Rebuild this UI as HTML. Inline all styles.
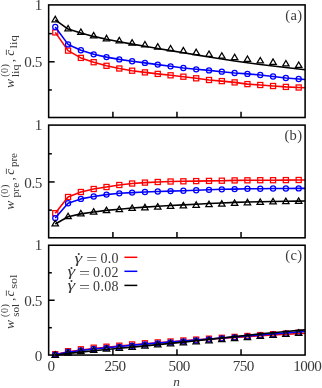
<!DOCTYPE html>
<html lang="en"><head><meta charset="utf-8"><title>figure</title>
<style>
html,body{margin:0;padding:0;background:#fff;}
body{width:322px;height:388px;overflow:hidden;}
svg{display:block;}
</style></head><body>
<svg width="322" height="388" viewBox="0 0 322 388">
<rect x="0" y="0" width="322" height="388" fill="#ffffff"/>
<defs>
<clipPath id="clipa"><rect x="48.65" y="-1.10" width="256.45" height="124.60"/></clipPath>
<clipPath id="clipb"><rect x="48.65" y="119.10" width="256.45" height="124.70"/></clipPath>
<clipPath id="clipc"><rect x="48.65" y="239.25" width="256.45" height="121.80"/></clipPath>
</defs>
<g clip-path="url(#clipa)">
<polyline points="55.26,32.40 68.07,50.60 80.88,57.90 93.69,62.20 106.51,65.80 119.32,68.50 132.13,70.70 144.94,72.40 157.76,73.90 170.57,75.30 183.38,76.70 196.19,78.30 209.01,80.00 221.82,81.10 234.63,82.40 247.44,84.10 260.26,85.00 273.07,86.00 285.88,86.90 298.69,87.50 305.10,87.80" fill="none" stroke="#ff0000" stroke-width="1.60" stroke-linejoin="round"/>
<g fill="none" stroke="#ff0000" stroke-width="1.25"><rect x="52.71" y="29.85" width="5.10" height="5.10"/><rect x="65.52" y="48.05" width="5.10" height="5.10"/><rect x="78.33" y="55.35" width="5.10" height="5.10"/><rect x="91.14" y="59.65" width="5.10" height="5.10"/><rect x="103.96" y="63.25" width="5.10" height="5.10"/><rect x="116.77" y="65.95" width="5.10" height="5.10"/><rect x="129.58" y="68.15" width="5.10" height="5.10"/><rect x="142.39" y="69.85" width="5.10" height="5.10"/><rect x="155.21" y="71.35" width="5.10" height="5.10"/><rect x="168.02" y="72.75" width="5.10" height="5.10"/><rect x="180.83" y="74.15" width="5.10" height="5.10"/><rect x="193.64" y="75.75" width="5.10" height="5.10"/><rect x="206.46" y="77.45" width="5.10" height="5.10"/><rect x="219.27" y="78.55" width="5.10" height="5.10"/><rect x="232.08" y="79.85" width="5.10" height="5.10"/><rect x="244.89" y="81.55" width="5.10" height="5.10"/><rect x="257.71" y="82.45" width="5.10" height="5.10"/><rect x="270.52" y="83.45" width="5.10" height="5.10"/><rect x="283.33" y="84.35" width="5.10" height="5.10"/><rect x="296.14" y="84.95" width="5.10" height="5.10"/></g>
<polyline points="55.26,27.00 68.07,44.40 80.88,50.20 93.69,54.30 106.51,57.10 119.32,59.40 132.13,61.20 144.94,62.90 157.76,64.60 170.57,66.30 183.38,68.00 196.19,69.30 209.01,70.40 221.82,71.70 234.63,73.00 247.44,73.90 260.26,75.00 273.07,76.50 285.88,78.00 298.69,79.00 305.10,79.50" fill="none" stroke="#0000ff" stroke-width="1.60" stroke-linejoin="round"/>
<g fill="none" stroke="#0000ff" stroke-width="1.25"><circle cx="55.26" cy="27.00" r="2.55"/><circle cx="68.07" cy="44.40" r="2.55"/><circle cx="80.88" cy="50.20" r="2.55"/><circle cx="93.69" cy="54.30" r="2.55"/><circle cx="106.51" cy="57.10" r="2.55"/><circle cx="119.32" cy="59.40" r="2.55"/><circle cx="132.13" cy="61.20" r="2.55"/><circle cx="144.94" cy="62.90" r="2.55"/><circle cx="157.76" cy="64.60" r="2.55"/><circle cx="170.57" cy="66.30" r="2.55"/><circle cx="183.38" cy="68.00" r="2.55"/><circle cx="196.19" cy="69.30" r="2.55"/><circle cx="209.01" cy="70.40" r="2.55"/><circle cx="221.82" cy="71.70" r="2.55"/><circle cx="234.63" cy="73.00" r="2.55"/><circle cx="247.44" cy="73.90" r="2.55"/><circle cx="260.26" cy="75.00" r="2.55"/><circle cx="273.07" cy="76.50" r="2.55"/><circle cx="285.88" cy="78.00" r="2.55"/><circle cx="298.69" cy="79.00" r="2.55"/></g>
<polyline points="55.26,19.90 68.07,29.10 80.88,32.90 93.69,36.40 106.51,39.20 119.32,41.70 132.13,44.10 144.94,46.30 157.76,48.50 170.57,50.60 183.38,52.70 196.19,54.90 209.01,57.00 221.82,59.00 234.63,61.00 247.44,62.80 260.26,64.50 273.07,66.00 285.88,67.50 298.69,69.00 305.10,69.75" fill="none" stroke="#000000" stroke-width="1.60" stroke-linejoin="round"/>
<g fill="none" stroke="#000000" stroke-width="1.25" stroke-linejoin="miter"><path d="M55.26 16.32 L52.06 21.76 L58.46 21.76 Z"/><path d="M68.07 25.52 L64.87 30.96 L71.27 30.96 Z"/><path d="M80.88 29.02 L77.68 34.46 L84.08 34.46 Z"/><path d="M93.69 32.42 L90.49 37.86 L96.89 37.86 Z"/><path d="M106.51 35.32 L103.31 40.76 L109.71 40.76 Z"/><path d="M119.32 37.42 L116.12 42.86 L122.52 42.86 Z"/><path d="M132.13 39.62 L128.93 45.06 L135.33 45.06 Z"/><path d="M144.94 41.52 L141.74 46.96 L148.14 46.96 Z"/><path d="M157.76 43.62 L154.56 49.06 L160.96 49.06 Z"/><path d="M170.57 45.52 L167.37 50.96 L173.77 50.96 Z"/><path d="M183.38 47.42 L180.18 52.86 L186.58 52.86 Z"/><path d="M196.19 49.12 L192.99 54.56 L199.39 54.56 Z"/><path d="M209.01 51.02 L205.81 56.46 L212.21 56.46 Z"/><path d="M221.82 52.72 L218.62 58.16 L225.02 58.16 Z"/><path d="M234.63 54.22 L231.43 59.66 L237.83 59.66 Z"/><path d="M247.44 56.02 L244.24 61.46 L250.64 61.46 Z"/><path d="M260.26 57.52 L257.06 62.96 L263.46 62.96 Z"/><path d="M273.07 58.92 L269.87 64.36 L276.27 64.36 Z"/><path d="M285.88 60.52 L282.68 65.96 L289.08 65.96 Z"/><path d="M298.69 62.02 L295.49 67.46 L301.89 67.46 Z"/></g>
</g>
<g clip-path="url(#clipb)">
<polyline points="55.26,213.20 68.07,197.00 80.88,192.00 93.69,189.00 106.51,187.00 119.32,185.00 132.13,183.50 144.94,182.60 157.76,182.00 170.57,181.50 183.38,181.30 196.19,181.10 209.01,180.90 221.82,180.70 234.63,180.40 247.44,180.30 260.26,180.20 273.07,180.20 285.88,180.10 298.69,180.00 305.10,179.95" fill="none" stroke="#ff0000" stroke-width="1.60" stroke-linejoin="round"/>
<g fill="none" stroke="#ff0000" stroke-width="1.25"><rect x="52.71" y="210.65" width="5.10" height="5.10"/><rect x="65.52" y="194.45" width="5.10" height="5.10"/><rect x="78.33" y="189.45" width="5.10" height="5.10"/><rect x="91.14" y="186.45" width="5.10" height="5.10"/><rect x="103.96" y="184.45" width="5.10" height="5.10"/><rect x="116.77" y="182.45" width="5.10" height="5.10"/><rect x="129.58" y="180.95" width="5.10" height="5.10"/><rect x="142.39" y="180.05" width="5.10" height="5.10"/><rect x="155.21" y="179.45" width="5.10" height="5.10"/><rect x="168.02" y="178.95" width="5.10" height="5.10"/><rect x="180.83" y="178.75" width="5.10" height="5.10"/><rect x="193.64" y="178.55" width="5.10" height="5.10"/><rect x="206.46" y="178.35" width="5.10" height="5.10"/><rect x="219.27" y="178.15" width="5.10" height="5.10"/><rect x="232.08" y="177.85" width="5.10" height="5.10"/><rect x="244.89" y="177.75" width="5.10" height="5.10"/><rect x="257.71" y="177.65" width="5.10" height="5.10"/><rect x="270.52" y="177.65" width="5.10" height="5.10"/><rect x="283.33" y="177.55" width="5.10" height="5.10"/><rect x="296.14" y="177.45" width="5.10" height="5.10"/></g>
<polyline points="55.26,218.10 68.07,203.20 80.88,198.90 93.69,196.50 106.51,194.60 119.32,193.30 132.13,192.60 144.94,192.00 157.76,191.50 170.57,191.10 183.38,190.70 196.19,190.20 209.01,189.80 221.82,189.30 234.63,189.10 247.44,188.70 260.26,188.70 273.07,188.50 285.88,188.50 298.69,188.40 305.10,188.35" fill="none" stroke="#0000ff" stroke-width="1.60" stroke-linejoin="round"/>
<g fill="none" stroke="#0000ff" stroke-width="1.25"><circle cx="55.26" cy="218.10" r="2.55"/><circle cx="68.07" cy="203.20" r="2.55"/><circle cx="80.88" cy="198.90" r="2.55"/><circle cx="93.69" cy="196.50" r="2.55"/><circle cx="106.51" cy="194.60" r="2.55"/><circle cx="119.32" cy="193.30" r="2.55"/><circle cx="132.13" cy="192.60" r="2.55"/><circle cx="144.94" cy="192.00" r="2.55"/><circle cx="157.76" cy="191.50" r="2.55"/><circle cx="170.57" cy="191.10" r="2.55"/><circle cx="183.38" cy="190.70" r="2.55"/><circle cx="196.19" cy="190.20" r="2.55"/><circle cx="209.01" cy="189.80" r="2.55"/><circle cx="221.82" cy="189.30" r="2.55"/><circle cx="234.63" cy="189.10" r="2.55"/><circle cx="247.44" cy="188.70" r="2.55"/><circle cx="260.26" cy="188.70" r="2.55"/><circle cx="273.07" cy="188.50" r="2.55"/><circle cx="285.88" cy="188.50" r="2.55"/><circle cx="298.69" cy="188.40" r="2.55"/></g>
<polyline points="55.26,224.00 68.07,216.80 80.88,213.90 93.69,212.00 106.51,210.40 119.32,209.20 132.13,208.00 144.94,207.10 157.76,206.30 170.57,205.50 183.38,204.90 196.19,204.20 209.01,203.50 221.82,203.00 234.63,202.40 247.44,202.00 260.26,201.70 273.07,201.50 285.88,201.30 298.69,201.10 305.10,201.00" fill="none" stroke="#000000" stroke-width="1.60" stroke-linejoin="round"/>
<g fill="none" stroke="#000000" stroke-width="1.25" stroke-linejoin="miter"><path d="M55.26 220.42 L52.06 225.86 L58.46 225.86 Z"/><path d="M68.07 213.22 L64.87 218.66 L71.27 218.66 Z"/><path d="M80.88 210.42 L77.68 215.86 L84.08 215.86 Z"/><path d="M93.69 208.62 L90.49 214.06 L96.89 214.06 Z"/><path d="M106.51 207.12 L103.31 212.56 L109.71 212.56 Z"/><path d="M119.32 206.12 L116.12 211.56 L122.52 211.56 Z"/><path d="M132.13 205.02 L128.93 210.46 L135.33 210.46 Z"/><path d="M144.94 204.32 L141.74 209.76 L148.14 209.76 Z"/><path d="M157.76 203.62 L154.56 209.06 L160.96 209.06 Z"/><path d="M170.57 202.92 L167.37 208.36 L173.77 208.36 Z"/><path d="M183.38 202.42 L180.18 207.86 L186.58 207.86 Z"/><path d="M196.19 201.82 L192.99 207.26 L199.39 207.26 Z"/><path d="M209.01 201.12 L205.81 206.56 L212.21 206.56 Z"/><path d="M221.82 200.62 L218.62 206.06 L225.02 206.06 Z"/><path d="M234.63 199.92 L231.43 205.36 L237.83 205.36 Z"/><path d="M247.44 199.32 L244.24 204.76 L250.64 204.76 Z"/><path d="M260.26 198.92 L257.06 204.36 L263.46 204.36 Z"/><path d="M273.07 198.42 L269.87 203.86 L276.27 203.86 Z"/><path d="M285.88 198.12 L282.68 203.56 L289.08 203.56 Z"/><path d="M298.69 197.92 L295.49 203.36 L301.89 203.36 Z"/></g>
</g>
<g clip-path="url(#clipc)">
<polyline points="55.26,354.50 68.07,351.70 80.88,350.00 93.69,348.50 106.51,347.30 119.32,346.10 132.13,344.80 144.94,343.70 157.76,342.70 170.57,341.80 183.38,340.80 196.19,339.90 209.01,339.00 221.82,338.20 234.63,337.40 247.44,336.60 260.26,335.80 273.07,335.00 285.88,334.30 298.69,333.60 305.10,333.25" fill="none" stroke="#ff0000" stroke-width="1.60" stroke-linejoin="round"/>
<g fill="none" stroke="#ff0000" stroke-width="1.25"><rect x="52.71" y="351.65" width="5.10" height="5.10"/><rect x="65.52" y="348.65" width="5.10" height="5.10"/><rect x="78.33" y="346.75" width="5.10" height="5.10"/><rect x="91.14" y="345.15" width="5.10" height="5.10"/><rect x="103.96" y="344.15" width="5.10" height="5.10"/><rect x="116.77" y="343.15" width="5.10" height="5.10"/><rect x="129.58" y="341.85" width="5.10" height="5.10"/><rect x="142.39" y="340.75" width="5.10" height="5.10"/><rect x="155.21" y="339.85" width="5.10" height="5.10"/><rect x="168.02" y="338.95" width="5.10" height="5.10"/><rect x="180.83" y="337.95" width="5.10" height="5.10"/><rect x="193.64" y="337.05" width="5.10" height="5.10"/><rect x="206.46" y="336.15" width="5.10" height="5.10"/><rect x="219.27" y="335.25" width="5.10" height="5.10"/><rect x="232.08" y="334.35" width="5.10" height="5.10"/><rect x="244.89" y="333.45" width="5.10" height="5.10"/><rect x="257.71" y="332.55" width="5.10" height="5.10"/><rect x="270.52" y="331.65" width="5.10" height="5.10"/><rect x="283.33" y="330.95" width="5.10" height="5.10"/><rect x="296.14" y="330.25" width="5.10" height="5.10"/></g>
<polyline points="55.26,354.60 68.07,352.20 80.88,350.50 93.69,349.00 106.51,347.70 119.32,346.50 132.13,345.20 144.94,344.10 157.76,343.00 170.57,342.00 183.38,341.00 196.19,340.00 209.01,339.00 221.82,338.00 234.63,337.00 247.44,336.00 260.26,335.00 273.07,334.00 285.88,333.00 298.69,332.00 305.10,331.50" fill="none" stroke="#0000ff" stroke-width="1.60" stroke-linejoin="round"/>
<g fill="none" stroke="#0000ff" stroke-width="1.25"><circle cx="55.26" cy="354.60" r="2.55"/><circle cx="68.07" cy="352.00" r="2.55"/><circle cx="80.88" cy="350.30" r="2.55"/><circle cx="93.69" cy="348.90" r="2.55"/><circle cx="106.51" cy="347.80" r="2.55"/><circle cx="119.32" cy="346.80" r="2.55"/><circle cx="132.13" cy="345.70" r="2.55"/><circle cx="144.94" cy="344.50" r="2.55"/><circle cx="157.76" cy="343.40" r="2.55"/><circle cx="170.57" cy="342.40" r="2.55"/><circle cx="183.38" cy="341.50" r="2.55"/><circle cx="196.19" cy="340.50" r="2.55"/><circle cx="209.01" cy="339.50" r="2.55"/><circle cx="221.82" cy="338.50" r="2.55"/><circle cx="234.63" cy="337.50" r="2.55"/><circle cx="247.44" cy="336.60" r="2.55"/><circle cx="260.26" cy="335.60" r="2.55"/><circle cx="273.07" cy="334.60" r="2.55"/><circle cx="285.88" cy="333.70" r="2.55"/><circle cx="298.69" cy="332.70" r="2.55"/></g>
<polyline points="55.26,355.40 68.07,353.40 80.88,352.10 93.69,350.80 106.51,349.50 119.32,348.30 132.13,347.10 144.94,345.90 157.76,344.60 170.57,343.40 183.38,342.10 196.19,340.80 209.01,339.40 221.82,338.00 234.63,336.60 247.44,335.30 260.26,333.90 273.07,332.70 285.88,331.50 298.69,330.40 305.10,329.85" fill="none" stroke="#000000" stroke-width="1.60" stroke-linejoin="round"/>
<g fill="none" stroke="#000000" stroke-width="1.25" stroke-linejoin="miter"><path d="M55.26 351.82 L52.06 357.26 L58.46 357.26 Z"/><path d="M68.07 349.62 L64.87 355.06 L71.27 355.06 Z"/><path d="M80.88 348.22 L77.68 353.66 L84.08 353.66 Z"/><path d="M93.69 346.97 L90.49 352.41 L96.89 352.41 Z"/><path d="M106.51 345.72 L103.31 351.16 L109.71 351.16 Z"/><path d="M119.32 344.82 L116.12 350.26 L122.52 350.26 Z"/><path d="M132.13 343.82 L128.93 349.26 L135.33 349.26 Z"/><path d="M144.94 342.62 L141.74 348.06 L148.14 348.06 Z"/><path d="M157.76 341.42 L154.56 346.86 L160.96 346.86 Z"/><path d="M170.57 340.32 L167.37 345.76 L173.77 345.76 Z"/><path d="M183.38 339.42 L180.18 344.86 L186.58 344.86 Z"/><path d="M196.19 338.32 L192.99 343.76 L199.39 343.76 Z"/><path d="M209.01 337.32 L205.81 342.76 L212.21 342.76 Z"/><path d="M221.82 336.22 L218.62 341.66 L225.02 341.66 Z"/><path d="M234.63 335.12 L231.43 340.56 L237.83 340.56 Z"/><path d="M247.44 334.12 L244.24 339.56 L250.64 339.56 Z"/><path d="M260.26 333.02 L257.06 338.46 L263.46 338.46 Z"/><path d="M273.07 332.02 L269.87 337.46 L276.27 337.46 Z"/><path d="M285.88 331.02 L282.68 336.46 L289.08 336.46 Z"/><path d="M298.69 329.82 L295.49 335.26 L301.89 335.26 Z"/></g>
</g>
<g stroke="#000" stroke-width="1.50"><line x1="48.65" y1="33.65" x2="51.85" y2="33.65"/><line x1="48.65" y1="61.80" x2="54.65" y2="61.80"/><line x1="48.65" y1="89.95" x2="51.85" y2="89.95"/><line x1="112.91" y1="117.50" x2="112.91" y2="111.70"/><line x1="176.97" y1="117.50" x2="176.97" y2="111.70"/><line x1="241.04" y1="117.50" x2="241.04" y2="111.70"/></g><rect x="48.65" y="4.90" width="256.45" height="112.60" fill="none" stroke="#000" stroke-width="1.55"/>
<g stroke="#000" stroke-width="1.50"><line x1="48.65" y1="153.78" x2="51.85" y2="153.78"/><line x1="48.65" y1="181.95" x2="54.65" y2="181.95"/><line x1="48.65" y1="210.12" x2="51.85" y2="210.12"/><line x1="112.91" y1="237.80" x2="112.91" y2="232.00"/><line x1="176.97" y1="237.80" x2="176.97" y2="232.00"/><line x1="241.04" y1="237.80" x2="241.04" y2="232.00"/></g><rect x="48.65" y="125.10" width="256.45" height="112.70" fill="none" stroke="#000" stroke-width="1.55"/>
<g stroke="#000" stroke-width="1.50"><line x1="48.65" y1="272.80" x2="51.85" y2="272.80"/><line x1="48.65" y1="300.25" x2="54.65" y2="300.25"/><line x1="48.65" y1="327.70" x2="51.85" y2="327.70"/><line x1="112.91" y1="355.05" x2="112.91" y2="349.25"/><line x1="176.97" y1="355.05" x2="176.97" y2="349.25"/><line x1="241.04" y1="355.05" x2="241.04" y2="349.25"/></g><rect x="48.65" y="245.25" width="256.45" height="109.80" fill="none" stroke="#000" stroke-width="1.55"/>
<g font-family="'Liberation Serif', serif" font-size="13.8" fill="#3a3a3a">
<text transform="translate(41.70,9.90) scale(1.1,1)" letter-spacing="-0.5" text-anchor="end">1</text>
<text transform="translate(41.70,67.40) scale(1.1,1)" letter-spacing="-0.5" text-anchor="end">0.5</text>
<text transform="translate(41.70,129.90) scale(1.1,1)" letter-spacing="-0.5" text-anchor="end">1</text>
<text transform="translate(41.70,187.60) scale(1.1,1)" letter-spacing="-0.5" text-anchor="end">0.5</text>
<text transform="translate(41.70,250.30) scale(1.1,1)" letter-spacing="-0.5" text-anchor="end">1</text>
<text transform="translate(41.70,305.70) scale(1.1,1)" letter-spacing="-0.5" text-anchor="end">0.5</text>
<text transform="translate(41.70,360.80) scale(1.1,1)" letter-spacing="-0.5" text-anchor="end">0</text>
<text transform="translate(51.05,371.40) scale(1.1,1)" letter-spacing="-0.5" text-anchor="middle">0</text>
<text transform="translate(115.11,371.40) scale(1.1,1)" letter-spacing="-0.5" text-anchor="middle">250</text>
<text transform="translate(179.17,371.40) scale(1.1,1)" letter-spacing="-0.5" text-anchor="middle">500</text>
<text transform="translate(243.24,371.40) scale(1.1,1)" letter-spacing="-0.5" text-anchor="middle">750</text>
<text transform="translate(307.30,371.40) scale(1.1,1)" letter-spacing="-0.5" text-anchor="middle">1000</text>
<text x="176.7" y="385.8" text-anchor="middle" font-style="italic" font-size="13.3">n</text>
<text x="302.3" y="19.90" text-anchor="end" font-size="14.5" letter-spacing="0.3">(a)</text>
<text x="302.3" y="140.10" text-anchor="end" font-size="14.5" letter-spacing="0.3">(b)</text>
<text x="302.3" y="260.25" text-anchor="end" font-size="14.5" letter-spacing="0.3">(c)</text>
<text transform="translate(74.60,262.50) scale(1.3,1)" font-style="italic" font-size="15">γ</text>
<text x="76.70" y="254.70" font-size="16">.</text>
<text transform="translate(86.30,264.40) scale(1.4,1)" font-size="14">=</text>
<text x="118.8" y="263.20" text-anchor="end" font-size="14" letter-spacing="0.3">0.0</text>
<line x1="124.4" y1="257.30" x2="137.3" y2="257.30" stroke="#ff0000" stroke-width="1.5"/>
<text transform="translate(67.40,276.30) scale(1.3,1)" font-style="italic" font-size="15">γ</text>
<text x="69.50" y="268.50" font-size="16">.</text>
<text transform="translate(79.10,278.20) scale(1.4,1)" font-size="14">=</text>
<text x="118.8" y="277.40" text-anchor="end" font-size="14" letter-spacing="0.3">0.02</text>
<line x1="124.4" y1="271.30" x2="137.3" y2="271.30" stroke="#0000ff" stroke-width="1.5"/>
<text transform="translate(67.40,290.10) scale(1.3,1)" font-style="italic" font-size="15">γ</text>
<text x="69.50" y="282.30" font-size="16">.</text>
<text transform="translate(79.10,292.00) scale(1.4,1)" font-size="14">=</text>
<text x="118.8" y="290.70" text-anchor="end" font-size="14" letter-spacing="0.3">0.08</text>
<line x1="124.4" y1="285.40" x2="137.3" y2="285.40" stroke="#000000" stroke-width="1.5"/>
<g transform="translate(13.7,88.00) rotate(-90)"><text x="0" y="0" font-style="italic" font-size="13.5">w</text><text x="11.20" y="-5.6" font-size="10" letter-spacing="0.50">(0)</text><text x="10.70" y="5.4" font-size="9.5" textLength="12.9" lengthAdjust="spacingAndGlyphs">liq</text><text x="25.80" y="0" font-size="13.5">,</text><text x="32.20" y="0" font-style="italic" font-size="13.5">c</text><line x1="33.00" y1="-7.3" x2="38.40" y2="-7.3" stroke="#3a3a3a" stroke-width="0.8"/><text x="39.60" y="3.2" font-size="9.5" textLength="13.2" lengthAdjust="spacingAndGlyphs">liq</text></g>
<g transform="translate(13.7,209.80) rotate(-90)"><text x="0" y="0" font-style="italic" font-size="13.5">w</text><text x="12.20" y="-5.6" font-size="10" letter-spacing="0.60">(0)</text><text x="12.20" y="5.4" font-size="9.5" textLength="15.0" lengthAdjust="spacingAndGlyphs">pre</text><text x="29.30" y="0" font-size="13.5">,</text><text x="35.00" y="0" font-style="italic" font-size="13.5">c</text><line x1="35.80" y1="-7.3" x2="41.20" y2="-7.3" stroke="#3a3a3a" stroke-width="0.8"/><text x="42.70" y="3.2" font-size="9.5" textLength="14.1" lengthAdjust="spacingAndGlyphs">pre</text></g>
<g transform="translate(13.7,329.00) rotate(-90)"><text x="0" y="0" font-style="italic" font-size="13.5">w</text><text x="12.00" y="-5.6" font-size="10" letter-spacing="0.60">(0)</text><text x="12.20" y="5.4" font-size="9.5" textLength="13.0" lengthAdjust="spacingAndGlyphs">sol</text><text x="28.00" y="0" font-size="13.5">,</text><text x="32.40" y="0" font-style="italic" font-size="13.5">c</text><line x1="33.20" y1="-7.3" x2="38.60" y2="-7.3" stroke="#3a3a3a" stroke-width="0.8"/><text x="40.20" y="3.2" font-size="9.5" textLength="14.2" lengthAdjust="spacingAndGlyphs">sol</text></g>
</g>
</svg>
</body></html>
